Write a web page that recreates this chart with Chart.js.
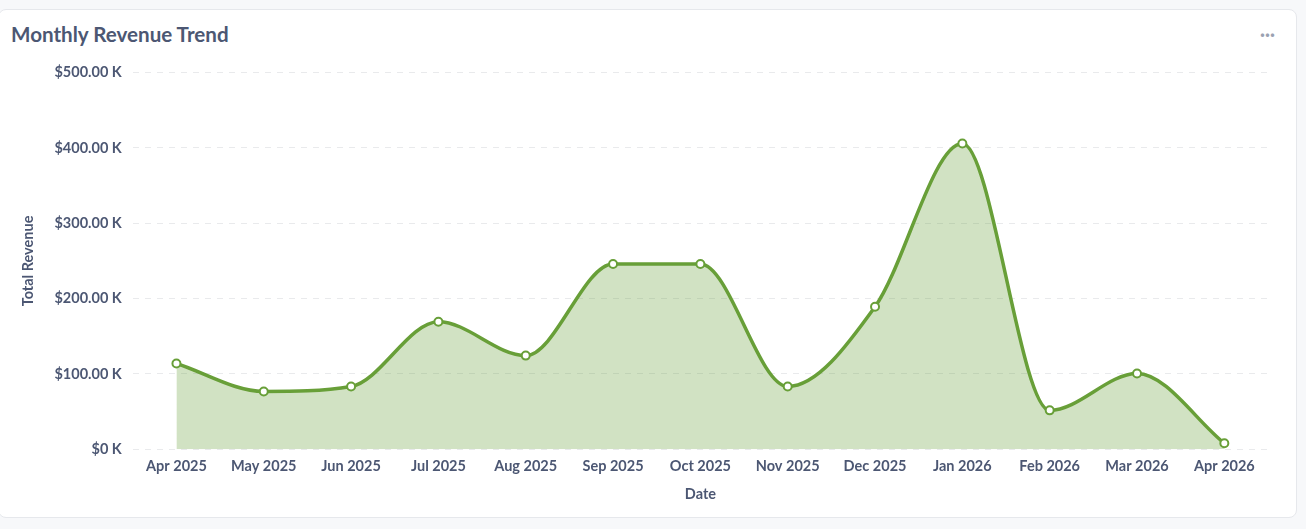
<!DOCTYPE html>
<html>
<head>
<meta charset="utf-8">
<script src="https://cdn.jsdelivr.net/npm/chart.js@4.4.1/dist/chart.umd.min.js"></script>
<style>
  html, body { margin: 0; padding: 0; background: #f7f8fa; width: 1306px; height: 529px; overflow: hidden; font-family: Lato, sans-serif; }
  #card { position: absolute; left: -2px; top: 9px; width: 1299px; height: 509px; background: #fff; border: 1px solid #e6e8ec; border-radius: 8px; box-sizing: border-box; }
  #title { position: absolute; left: 12px; top: 12px; font-size: 20.6px; font-weight: 700; color: #4c5773; }
  #dots { position: absolute; left: 1261px; top: 13px; font-size: 18px; color: #9aa2b1; font-weight: 700; }
  #wrap { position: absolute; left: 17px; top: 43px; width: 1262px; height: 454px; }
</style>
</head>
<body>
<div id="card">
  <div id="title">Monthly Revenue Trend</div>
  <div id="dots">···</div>
  <div id="wrap"><canvas id="c"></canvas></div>
</div>
<script>
const categories = ["Apr 2025","May 2025","Jun 2025","Jul 2025","Aug 2025","Sep 2025","Oct 2025","Nov 2025","Dec 2025","Jan 2026","Feb 2026","Mar 2026","Apr 2026"];
const revenue = [113800, 76700, 83300, 169300, 124300, 246000, 246000, 83300, 189200, 406000, 51600, 100500, 7900];
const yTicks = [0, 100000, 200000, 300000, 400000, 500000];

const tickColor = '#4c5773';
const tickFont = { family: 'Lato', size: 14.5, weight: '700' };
const ctx = document.getElementById('c');
new Chart(ctx, {
  type: 'line',
  data: {
    labels: categories,
    datasets: [{
      label: 'Total Revenue',
      data: revenue,
      borderColor: '#689f38',
      backgroundColor: 'rgba(104,159,56,0.3)',
      fill: 'origin',
      borderWidth: 3.5,
      cubicInterpolationMode: 'monotone',
      pointRadius: 4,
      pointBorderWidth: 2,
      pointBackgroundColor: '#ffffff',
      pointBorderColor: '#689f38'
    }]
  },
  options: {
    responsive: true,
    maintainAspectRatio: false,
    animation: false,
    layout: { padding: { top: 10, right: 10, left: 0, bottom: 0 } },
    plugins: { legend: { display: false }, tooltip: { enabled: false } },
    scales: {
      x: {
        offset: true,
        grid: { display: false },
        border: { display: false },
        ticks: { color: tickColor, font: tickFont, maxRotation: 0, padding: 0 },
        title: { display: true, text: 'Date', color: tickColor, font: tickFont, padding: { top: 11 } }
      },
      y: {
        min: 0, max: 500000,
        afterBuildTicks: (axis) => { axis.ticks = yTicks.map(v => ({ value: v })); },
        grid: { color: '#e9eaec', lineWidth: 1, tickLength: 0, drawTicks: false },
        border: { display: false, dash: [6, 6] },
        ticks: {
          color: tickColor, font: tickFont, padding: 11,
          callback: (v) => v === 0 ? '$0 K' : '$' + (v / 1000).toFixed(2) + ' K'
        },
        title: { display: true, text: 'Total Revenue', color: tickColor, font: tickFont, padding: { bottom: 6 } }
      }
    }
  }
});
</script>
</body>
</html>
